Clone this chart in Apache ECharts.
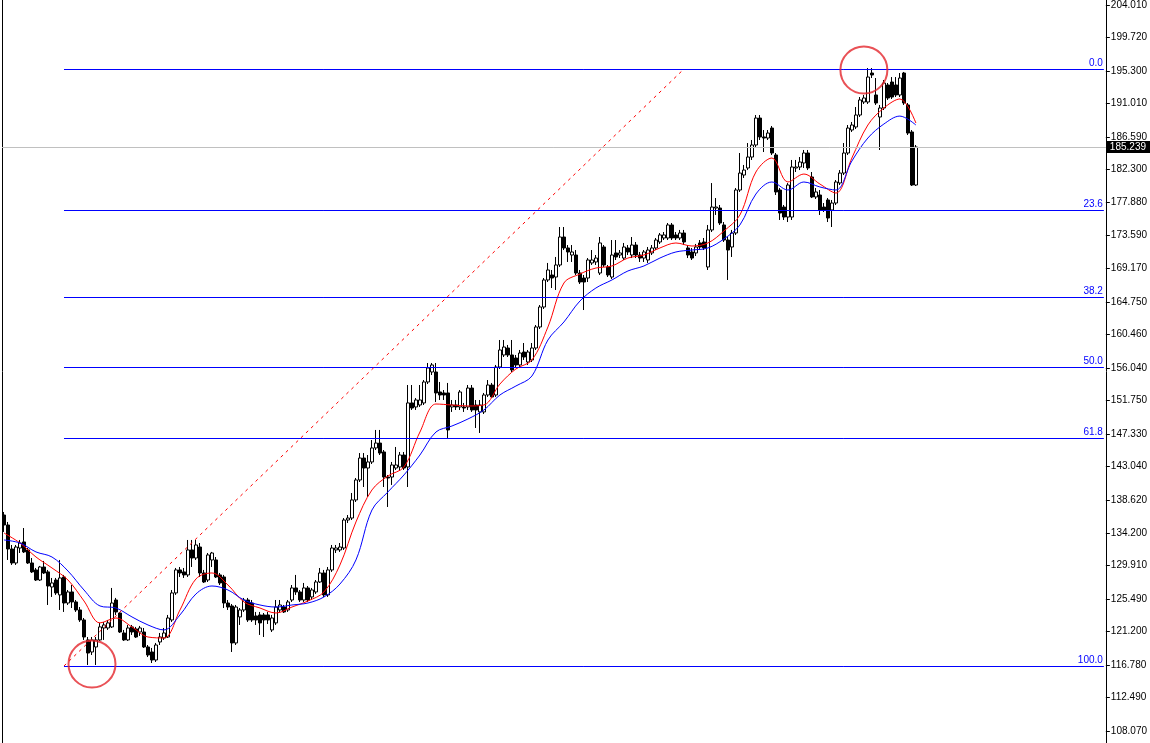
<!DOCTYPE html>
<html><head><meta charset="utf-8">
<script src="https://cdn.jsdelivr.net/npm/echarts@6/dist/echarts.min.js"></script>
<style>html,body{margin:0;padding:0;background:#fff}#c{width:1150px;height:743px}</style>
</head><body><div id="c"></div>
<script>
// OHLC bars: [open, close, low, high]
const candles = [
[136.61,135.29,134.37,137.01],[135.29,132.12,130.67,135.69],[132.12,130.27,130.01,132.65],[130.27,132.38,130.01,132.65],
[132.25,132.91,131.59,133.31],[133.05,131.73,131.59,134.89],[131.99,130.27,130.14,132.25],[130.27,129.09,128.95,130.93],
[129.35,128.02,127.89,129.61],[128.02,129.74,127.89,129.88],[129.74,128.95,128.82,130.54],[129.09,127.23,124.72,129.35],
[127.10,127.63,125.78,128.29],[128.02,126.31,126.05,128.29],[126.05,128.29,124.06,130.67],[128.42,124.98,123.80,128.69],
[124.98,126.44,124.72,126.70],[126.44,125.12,124.32,127.36],[125.12,124.06,123.80,125.38],[124.06,122.74,122.48,124.45],
[122.74,120.49,120.10,123.00],[120.10,118.37,116.79,120.49],[118.51,120.10,118.11,120.49],[119.17,120.10,116.79,120.49],
[120.10,121.82,119.97,122.35],[121.68,122.08,120.10,122.48],[121.68,122.35,121.42,122.74],[121.82,124.98,121.68,126.97],
[125.38,123.80,123.40,125.65],[123.66,121.15,121.02,123.80],[121.02,120.10,119.97,121.42],[120.10,121.68,119.97,122.08],
[121.82,121.15,120.76,122.08],[121.55,120.49,120.36,121.82],[121.15,121.68,120.63,121.95],[121.15,119.17,119.04,121.68],
[119.17,118.11,117.84,119.43],[118.51,117.45,117.05,119.04],[117.45,119.43,117.19,119.70],[119.83,120.49,119.43,121.02],
[120.36,121.02,120.10,121.68],[120.49,123.00,120.36,123.40],[122.74,126.31,122.48,126.70],[126.31,129.35,126.05,129.61],
[129.35,128.95,128.42,129.74],[129.09,128.69,128.29,129.61],[128.69,131.99,128.42,133.31],[131.99,130.93,129.74,133.31],
[130.93,132.65,130.67,133.31],[132.38,128.95,128.42,132.91],[128.95,127.76,127.63,129.35],[128.02,131.33,127.76,131.59],
[130.67,131.59,129.74,131.73],[130.67,128.42,128.29,131.06],[128.69,127.63,127.36,128.95],[128.42,124.98,124.32,128.69],
[124.98,124.45,124.06,125.38],[124.59,119.70,118.51,124.85],[119.70,124.45,119.43,124.72],[123.14,124.06,122.08,124.32],
[124.06,125.38,123.80,125.65],[125.38,122.74,122.48,125.65],[124.98,122.74,122.48,125.38],[123.27,122.74,122.08,123.80],
[123.40,122.35,120.76,123.80],[123.40,122.74,120.49,123.66],[123.40,122.74,122.21,123.80],[121.42,123.00,121.15,123.40],
[122.35,124.45,122.08,125.38],[124.06,124.72,123.80,125.38],[124.45,123.80,123.66,124.72],[124.06,125.12,123.80,125.38],
[125.38,126.97,125.12,127.36],[126.97,126.44,126.05,128.69],[126.44,125.38,125.12,126.70],[125.38,126.97,125.12,127.63],
[126.97,125.38,125.12,127.23],[125.78,126.70,125.38,126.97],[126.44,127.76,126.18,128.02],[127.76,128.95,127.63,129.61],
[128.95,126.05,125.78,129.35],[126.05,129.35,125.78,129.74],[129.35,132.25,129.09,132.65],[131.99,132.25,131.59,132.65],
[131.99,132.38,131.73,132.91],[132.25,135.95,131.99,136.21],[135.95,136.21,135.55,136.61],[136.21,138.60,135.95,139.52],
[138.60,141.24,138.33,141.50],[141.24,144.14,140.97,144.80],[144.14,142.82,140.31,144.80],[142.82,143.62,138.99,144.54],
[143.62,145.47,143.35,146.52],[145.47,146.12,145.20,147.85],[146.12,144.80,144.54,147.85],[144.94,141.63,140.31,145.20],
[141.63,141.50,137.67,141.90],[141.63,143.22,140.58,143.62],[142.82,143.22,142.56,145.60],[142.96,144.54,142.56,144.94],
[144.54,142.82,142.56,144.94],[142.96,151.42,140.31,153.79],[151.42,150.75,150.49,153.79],[150.89,151.81,150.49,152.07],
[151.15,151.81,150.89,153.79],[151.42,154.19,151.15,154.45],[154.19,156.04,153.92,156.70],[155.51,156.44,155.11,156.70],
[155.51,152.74,151.54,156.70],[152.87,152.47,151.81,154.19],[152.74,152.47,151.81,153.13],[152.74,147.85,146.79,154.06],
[150.89,151.15,150.23,151.81],[151.15,150.89,150.49,151.81],[150.89,152.87,150.49,153.13],[150.89,150.75,150.23,151.42],
[150.89,153.39,150.49,153.79],[153.39,150.49,150.23,153.79],[151.15,150.49,148.11,151.81],[150.23,151.15,147.45,151.81],
[150.23,152.47,149.96,152.74],[152.47,153.79,152.21,154.45],[153.79,152.21,152.07,154.06],[152.47,156.17,152.21,156.44],
[156.17,158.42,155.91,159.74],[157.76,158.81,157.49,159.74],[158.68,157.76,157.49,159.08],[157.76,155.78,155.51,159.74],
[157.36,156.44,156.04,157.76],[156.44,158.02,156.17,158.42],[158.15,157.49,157.10,159.34],[156.83,158.15,156.44,158.42],
[157.10,158.68,156.83,159.34],[158.68,161.46,158.42,161.72],[161.46,164.10,161.19,164.36],[164.10,167.67,163.84,167.93],
[167.67,168.99,167.40,169.92],[168.33,167.93,166.61,168.99],[168.06,169.65,166.35,170.71],[169.65,173.35,169.39,174.67],
[173.35,171.90,171.63,174.67],[171.90,171.37,170.05,172.29],[170.97,171.37,170.05,172.29],[170.97,168.59,168.33,171.63],
[168.59,167.40,167.14,168.99],[167.93,167.40,163.70,168.33],[167.93,170.31,167.40,170.57],[169.92,170.31,169.65,171.63],
[170.05,170.57,169.65,170.97],[168.59,172.56,168.33,173.35],[172.03,169.65,169.39,172.29],[169.39,168.33,168.06,169.65],
[168.06,170.97,167.80,172.95],[171.24,170.71,170.31,172.95],[170.97,171.24,170.57,171.63],[170.57,172.03,170.31,172.56],
[171.90,171.37,170.97,172.29],[170.97,172.29,170.57,173.35],[172.29,170.97,170.57,172.69],[170.97,170.57,170.05,171.37],
[170.57,171.37,170.05,171.63],[170.31,171.63,169.92,172.03],[171.24,171.90,170.97,172.29],[171.90,172.95,171.63,173.22],
[172.69,173.62,172.43,173.88],[173.22,173.62,172.95,174.01],[173.22,174.94,172.95,175.20],[174.94,173.22,172.95,175.20],
[173.62,173.22,172.95,174.01],[173.22,173.88,172.95,174.28],[173.88,172.69,172.29,174.28],[171.90,170.97,170.57,172.29],
[171.37,170.57,170.31,171.90],[171.24,172.03,170.84,172.43],[172.56,172.03,171.63,172.95],[172.69,171.90,171.63,173.22],
[169.39,174.28,168.99,174.94],[174.28,177.31,174.01,180.48],[177.18,177.31,176.26,178.50],[177.18,175.20,174.94,177.58],
[174.94,172.95,172.69,175.33],[172.95,171.63,167.67,173.35],[172.03,173.88,170.71,174.28],[173.88,179.56,173.62,179.82],
[179.56,181.80,179.30,184.45],[181.54,182.20,181.15,182.87],[182.47,183.92,182.20,185.77],[183.92,185.51,183.53,186.17],
[185.51,189.07,185.24,189.47],[189.07,186.57,186.17,189.47],[186.57,186.43,184.58,187.49],[186.43,187.09,186.17,187.49],
[187.75,184.45,184.19,188.02],[184.19,179.30,178.90,184.45],[179.56,176.52,175.60,179.82],[177.31,175.99,175.60,177.58],
[175.99,180.22,175.33,180.48],[175.99,182.60,175.60,183.53],[182.47,182.60,181.94,183.53],[182.60,183.26,182.20,183.92],
[183.13,184.45,182.47,184.85],[184.45,182.47,182.20,184.85],[181.28,178.64,178.50,181.94],[178.64,179.30,178.37,179.82],
[178.90,176.92,176.26,179.56],[177.31,176.92,176.65,177.84],[178.24,175.86,175.33,178.50],[176.92,177.84,174.67,178.24],
[177.84,180.62,177.58,180.88],[180.49,181.80,180.22,182.20],[181.80,184.45,181.54,185.77],[184.45,187.75,184.19,188.15],
[187.49,188.15,187.23,188.55],[187.89,189.47,187.62,190.53],[189.47,191.46,189.21,191.85],[191.19,191.72,190.93,192.12],
[191.19,194.49,190.93,195.68],[195.02,194.76,194.36,195.68],[192.12,191.06,190.80,194.36],[189.21,190.40,184.85,190.80],
[190.40,193.70,190.13,194.10],[193.44,191.72,191.46,193.70],[193.83,191.85,191.59,194.49],[193.44,192.12,191.85,194.49],
[192.12,194.36,191.85,195.02],[195.02,191.06,190.80,195.16],[190.80,187.09,186.83,191.06],[187.23,180.22,180.09,187.49],
[180.22,185.24,180.09,185.51]
];
// number of bar slots on the time axis (includes empty space on the right)
const slotCount = 276;
// moving averages read at these bar indices
const maBars = [0,4,8,12,16,20,24,28,32,36,40,44,48,52,56,60,64,68,72,76,80,84,88,92,96,100,104,108,112,116,120,124,128,132,136,140,144,148,152,156,160,164,168,172,176,180,184,188,192,196,200,204,208,212,216,220,224,228];
const maRed = [134.23,132.91,131.06,129.61,128.02,125.25,122.35,123.00,121.81,120.49,120.36,124.06,128.16,128.95,127.36,125.12,124.32,123.66,124.45,125.25,126.44,130.01,135.69,139.92,141.77,142.96,147.58,151.28,151.15,151.02,151.15,153.92,155.91,157.10,161.46,167.27,168.46,169.25,169.52,170.57,170.97,171.90,172.56,172.16,172.56,174.14,176.26,181.94,183.79,180.62,181.67,180.35,179.16,183.79,188.15,190.40,191.59,188.42];
const maBlue = [133.31,132.91,131.73,131.06,129.21,126.70,124.59,124.32,123.14,122.08,121.42,123.40,126.18,127.23,126.70,125.38,124.72,124.45,124.72,124.98,125.78,127.49,130.67,137.27,139.66,141.90,144.54,147.58,148.37,149.30,150.49,152.47,153.66,154.98,159.74,162.12,164.89,166.61,167.67,168.86,169.52,170.57,171.37,171.63,171.90,173.09,174.94,179.03,180.62,179.56,180.62,179.96,179.56,183.39,186.43,188.28,189.33,188.15];
// Fibonacci retracement
const fibLevels = [195.55,176.93,165.41,156.11,146.80,116.66];
const fibLabels = ['0.0','23.6','38.2','50.0','61.8','100.0'];
const fibStartBar = 15;
const trendFrom = [15, 116.66];
const trendTo = [170, 195.55];
// highlighted swing points (circles)
const circleBars = [22, 215];
const circlePrices = [116.92, 195.42];
const lastPrice = 185.239;
// right axis tick labels
const yTicks = [108.07,112.49,116.78,121.20,125.49,129.91,134.20,138.62,143.04,147.33,151.75,156.04,160.46,164.75,169.17,173.59,177.88,182.30,186.59,191.01,195.30,199.72,204.01];
const yMin = 106.48, yMax = 204.67;

const slots = [];
for (let i = 0; i < slotCount; i++) slots.push(String(i));
const lastSlot = slotCount - 1;

const fibLines = fibLevels.map((v, k) => [
  { coord: [fibStartBar, v],
    lineStyle: { color: '#0000ff', width: 1, type: 'solid' },
    label: { show: true, formatter: fibLabels[k], position: 'insideEndTop', distance: 1,
      color: '#0000ff', fontFamily: 'Liberation Sans', fontSize: 10 } },
  { coord: [lastSlot, v] }
]);

const chart = echarts.init(document.getElementById('c'), null, { renderer: 'canvas' });
chart.setOption({
  animation: false,
  backgroundColor: '#ffffff',
  grid: { left: 2, right: 43, top: 0, bottom: 0 },
  xAxis: {
    type: 'category', data: slots, boundaryGap: true,
    axisLine: { show: false }, axisTick: { show: false }, axisLabel: { show: false }, splitLine: { show: false }
  },
  yAxis: [{
    type: 'value', position: 'right', min: yMin, max: yMax,
    splitLine: { show: false },
    axisLine: { show: true, lineStyle: { color: '#000', width: 1 } },
    axisTick: { show: true, inside: false, length: 4, customValues: yTicks, lineStyle: { color: '#000' } },
    axisLabel: {
      customValues: yTicks, formatter: v => Number(v).toFixed(3),
      color: '#000', fontFamily: 'Liberation Sans', fontSize: 10, margin: 5
    }
  }, {
    type: 'value', position: 'left', min: yMin, max: yMax,
    splitLine: { show: false }, axisTick: { show: false }, axisLabel: { show: false },
    axisLine: { show: true, lineStyle: { color: '#000', width: 1 } }
  }],
  series: [
    {
      type: 'candlestick', name: 'price', data: candles, barWidth: 3, yAxisIndex: 0,
      itemStyle: { color: '#ffffff', color0: '#000000', borderColor: '#000000', borderColor0: '#000000', borderWidth: 1 },
      markLine: {
        silent: true, symbol: ['none', 'none'], animation: false,
        data: [
          ...fibLines,
          [
            { coord: trendFrom, lineStyle: { color: '#ff0000', width: 1, type: [3, 4] }, label: { show: false } },
            { coord: trendTo }
          ],
          {
            yAxis: lastPrice,
            lineStyle: { color: '#c0c0c0', width: 1, type: 'solid' },
            label: { show: true, position: 'end', distance: 1, formatter: lastPrice.toFixed(3),
              color: '#ffffff', backgroundColor: '#000000', padding: [1, 4, 1, 3],
              fontFamily: 'Liberation Sans', fontSize: 10 }
          }
        ]
      }
    },
    {
      type: 'line', name: 'MA fast', data: maBars.map((b, k) => [b, maRed[k]]),
      symbol: 'none', smooth: 0.35, lineStyle: { color: '#ff0000', width: 1 }, z: 3
    },
    {
      type: 'line', name: 'MA slow', data: maBars.map((b, k) => [b, maBlue[k]]),
      symbol: 'none', smooth: 0.35, lineStyle: { color: '#0000ff', width: 1 }, z: 3
    },
    {
      type: 'scatter', name: 'swings', data: circleBars.map((b, k) => [b, circlePrices[k]]),
      symbol: 'circle', symbolSize: 47, silent: true, z: 5,
      itemStyle: { color: 'rgba(0,0,0,0)', borderColor: '#e3262c', borderWidth: 2 }
    }
  ]
});
</script></body></html>
